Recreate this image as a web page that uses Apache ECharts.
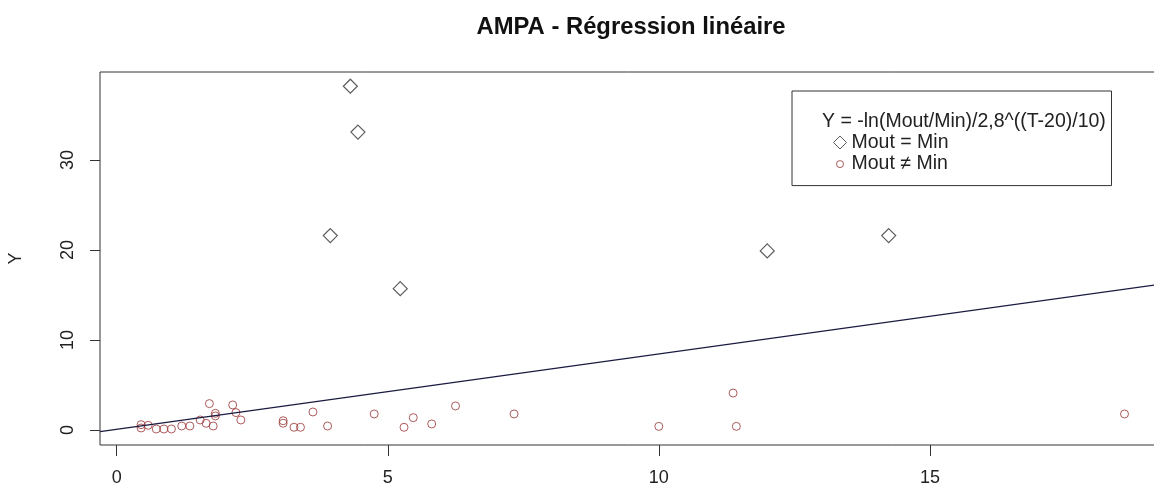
<!DOCTYPE html>
<html>
<head>
<meta charset="utf-8">
<script src="https://cdn.jsdelivr.net/npm/echarts@6/dist/echarts.min.js"></script>
<style>
  html, body { margin: 0; padding: 0; background: #fff; }
  #chart { width: 1154px; height: 486px; }
</style>
</head>
<body>
<div id="chart"></div>
<script>
// points where Mout = Min (diamonds)
const diamondX = [4.31, 4.45, 3.94, 5.23, 12.0, 14.24];
const diamondY = [38.2, 33.1, 21.6, 15.7, 19.9, 21.6];

// points where Mout != Min (circles)
const circleX = [0.45, 0.45, 0.58, 0.73, 0.87, 1.01, 1.2, 1.35, 1.54, 1.65, 1.71, 1.78, 1.82, 1.82, 2.14, 2.2, 2.29,
  3.07, 3.07, 3.27, 3.39, 3.62, 3.89, 4.75, 5.3, 5.47, 5.81, 6.25, 7.33, 10.0, 11.37, 11.43, 18.59];
const circleY = [0.59, 0.22, 0.52, 0.11, 0.11, 0.11, 0.44, 0.44, 1.11, 0.74, 2.93, 0.44, 1.56, 1.85, 2.78, 1.93, 1.11,
  1.03, 0.75, 0.3, 0.3, 2.0, 0.44, 1.78, 0.3, 1.37, 0.67, 2.67, 1.78, 0.4, 4.1, 0.4, 1.78];

// regression line
const fitIntercept = 0.07;
const fitSlope = 0.837;

const xTicks = [0, 5, 10, 15];
const yTicks = [0, 10, 20, 30];
const xMin = -0.308, xMax = 19.3;
const yMin = -1.67, yMax = 39.78;

const formulaName = "Y = -ln(Mout/Min)/2,8^((T-20)/10)";
const diamondName = "Mout = Min";
const circleName = "Mout \u2260 Min";

const font = "'Liberation Sans', Arial, sans-serif";
const circleColor = "#993333";

const chart = echarts.init(document.getElementById("chart"));

const option = {
  animation: false,
  title: {
    text: "AMPA - Régression linéaire",
    left: 631,
    top: 15,
    padding: 0,
    textAlign: "center",
    textStyle: { fontFamily: font, fontSize: 23.8, fontWeight: "bold", color: "#111" },
  },
  legend: [
    {
      // formula line (no symbol)
      data: [{ name: formulaName, icon: "none" }],
      left: 817,
      top: 111,
      padding: 0,
      orient: "vertical",
      itemWidth: 0,
      itemHeight: 13,
      selectedMode: false,
      textStyle: { fontFamily: font, fontSize: 19.5, color: "#222", lineHeight: 21 },
    },
    {
      data: [
        { name: diamondName, icon: "diamond" },
        { name: circleName, icon: "path://M0,0M13,13M10,6.5A3.5,3.5,0,1,1,3,6.5A3.5,3.5,0,1,1,10,6.5Z" },
      ],
      left: 792,
      top: 91,
      padding: [41, 163, 11, 41],
      orient: "vertical",
      itemWidth: 13,
      itemHeight: 13,
      itemGap: 0.6,
      selectedMode: false,
      borderColor: "#333",
      borderWidth: 1,
      backgroundColor: "#fff",
      itemStyle: { borderWidth: 1 },
      textStyle: { fontFamily: font, fontSize: 19.5, color: "#222", lineHeight: 21 },
    },
  ],
  grid: {
    left: 100,
    top: 72,
    right: -9,
    bottom: 41,
    outerBoundsMode: "none",
    show: true,
    borderColor: "#333",
    borderWidth: 1,
  },
  xAxis: {
    type: "value",
    min: xMin,
    max: xMax,
    splitLine: { show: false },
    axisLine: { show: false, onZero: false },
    axisTick: { show: true, length: 11, customValues: xTicks, lineStyle: { color: "#333" } },
    axisLabel: { customValues: xTicks, margin: 24, fontFamily: font, fontSize: 18, color: "#222" },
  },
  yAxis: {
    type: "value",
    min: yMin,
    max: yMax,
    name: "Y",
    nameLocation: "middle",
    nameGap: 75,
    nameTextStyle: { fontFamily: font, fontSize: 18, color: "#222" },
    splitLine: { show: false },
    axisLine: { show: false, onZero: false },
    axisTick: { show: true, length: 10, customValues: yTicks, lineStyle: { color: "#333" } },
    axisLabel: { customValues: yTicks, rotate: 90, margin: 23, fontFamily: font, fontSize: 18, color: "#222" },
  },
  series: [
    {
      name: formulaName,
      type: "line",
      symbol: "none",
      silent: true,
      lineStyle: { color: "#1a1a40", width: 1.2 },
      data: [
        [xMin, fitIntercept + fitSlope * xMin],
        [xMax, fitIntercept + fitSlope * xMax],
      ],
    },
    {
      name: diamondName,
      type: "scatter",
      symbol: "diamond",
      symbolSize: 14,
      itemStyle: { color: "rgba(0,0,0,0)", borderColor: "#333", borderWidth: 1.2 },
      data: diamondX.map((x, i) => [x, diamondY[i]]),
    },
    {
      name: circleName,
      type: "scatter",
      symbol: "circle",
      symbolSize: 8,
      itemStyle: { color: "rgba(0,0,0,0)", borderColor: circleColor, borderWidth: 1 },
      data: circleX.map((x, i) => [x, circleY[i]]),
    },
  ],
};

chart.setOption(option);
window.addEventListener("resize", () => chart.resize());
</script>
</body>
</html>
